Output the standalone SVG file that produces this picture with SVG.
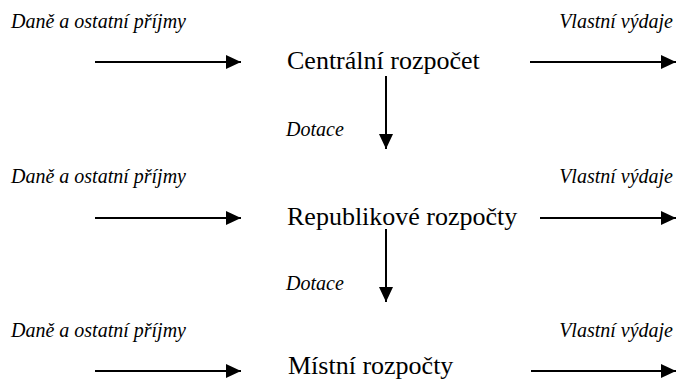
<svg xmlns="http://www.w3.org/2000/svg" width="681" height="381" viewBox="0 0 681 381">
<style>
text{font-family:'Liberation Serif','Times New Roman',Times,'DejaVu Serif',serif;fill:#000}
.lbl{font-style:italic;font-size:20px}
.main{font-size:26px}
.end{text-anchor:end}
.conn line{stroke:#000;stroke-width:2;marker-end:url(#ah)}
</style>
<defs>
<marker id="ah" markerUnits="userSpaceOnUse" markerWidth="15" markerHeight="14" refX="15" refY="7" orient="auto">
<path d="M0,0 L15,7 L0,14 z" fill="#000"/>
</marker>
</defs>
<g id="labels">
<text class="lbl" x="11" y="28">Daně a ostatní příjmy</text>
<text class="lbl end" x="673" y="28">Vlastní výdaje</text>
<text class="lbl" x="286" y="136">Dotace</text>
<text class="lbl" x="11" y="183">Daně a ostatní příjmy</text>
<text class="lbl end" x="673" y="183">Vlastní výdaje</text>
<text class="lbl" x="286" y="290">Dotace</text>
<text class="lbl" x="11" y="337">Daně a ostatní příjmy</text>
<text class="lbl end" x="673" y="337">Vlastní výdaje</text>
</g>
<g id="node-centralni"><text class="main" x="287" y="69">Centrální rozpočet</text></g>
<g id="node-republikove"><text class="main" x="287" y="225">Republikové rozpočty</text></g>
<g id="node-mistni"><text class="main" x="288" y="374">Místní rozpočty</text></g>
<g id="connectors" class="conn">
<line x1="95" y1="62" x2="241" y2="62"/>
<line x1="530" y1="62" x2="676" y2="62"/>
<line x1="386" y1="76" x2="386" y2="149"/>
<line x1="95" y1="218" x2="241" y2="218"/>
<line x1="540" y1="218" x2="676" y2="218"/>
<line x1="386" y1="229" x2="386" y2="302"/>
<line x1="95" y1="371" x2="241" y2="371"/>
<line x1="531" y1="371" x2="676" y2="371"/>
</g>
</svg>
